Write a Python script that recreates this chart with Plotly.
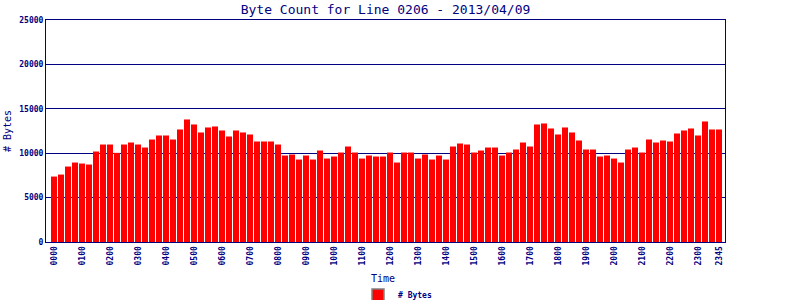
import plotly.graph_objects as go

bytes_counts = [
    7370, 7595, 8498, 8949, 8836, 8723, 10190, 10979, 10979, 10039, 10979, 11205,
    10979, 10640, 11543, 11994, 11994, 11543, 12671, 13800, 13235, 12333, 12897, 13010,
    12558, 11882, 12558, 12333, 12107, 11318, 11318, 11318, 10979, 9738, 9851, 9287,
    9738, 9287, 10302, 9400, 9626, 10077, 10754, 10077, 9400, 9738, 9626, 9626,
    10077, 8949, 10077, 10077, 9400, 9851, 9287, 9738, 9287, 10754, 11092, 10979,
    10077, 10302, 10640, 10640, 9738, 10077, 10415, 11205, 10754, 13235, 13348, 12784,
    12107, 12897, 12333, 11430, 10415, 10415, 9626, 9738, 9400, 8949, 10415, 10640,
    10077, 11543, 11205, 11430, 11318, 12220, 12558, 12784, 11994, 13574, 12671, 12671,
]
times = ["%02d%02d" % (i // 4, (i % 4) * 15) for i in range(96)]
tick_labels = ["%02d00" % h for h in range(24)] + ["2345"]
tick_positions = [times.index(t) for t in tick_labels]
y_ticks = [0, 5000, 10000, 15000, 20000, 25000]

NAVY = "#000080"
MONO = "DejaVu Sans Mono"

x_idx = list(range(len(bytes_counts)))

fig = go.Figure()
fig.add_trace(go.Bar(
    x=x_idx, y=bytes_counts, marker=dict(color="#ff0000", line=dict(width=0)),
    showlegend=False, hovertext=times,
))
fig.add_trace(go.Bar(
    x=[None], y=[None], name="# Bytes",
    marker=dict(color="#ff0000", line=dict(color="#808080", width=1.5)),
    showlegend=True,
))

fig.update_layout(
    width=800, height=300,
    margin=dict(l=46, r=75, t=20, b=58, autoexpand=False),
    paper_bgcolor="white", plot_bgcolor="white",
    bargap=0.14,
    title=dict(text="Byte Count for Line 0206 - 2013/04/09",
               font=dict(family=MONO, size=13, color=NAVY),
               x=385.5 / 800, xanchor="center", y=1 - 9 / 300, yanchor="middle"),
    font=dict(family=MONO, color=NAVY),
    legend=dict(orientation="h", x=(358 - 46) / 679, xanchor="left",
                y=(242 - 295) / 222, yanchor="middle",
                font=dict(family=MONO, size=8, color=NAVY, weight="bold"),
                bgcolor="rgba(0,0,0,0)", itemwidth=30),
    xaxis=dict(range=[-1.14, 95.86], tickmode="array",
               tickvals=tick_positions, ticktext=tick_labels,
               tickangle=-90, tickfont=dict(family=MONO, size=8, color=NAVY, weight="bold"),
               showline=True, linecolor=NAVY, linewidth=1, mirror=True,
               showgrid=False, zeroline=False, ticks="", ticklen=0, automargin=False),
    yaxis=dict(range=[0, 25000], tickmode="array", tickvals=y_ticks,
               ticktext=[str(v) for v in y_ticks],
               tickfont=dict(family=MONO, size=8, color=NAVY, weight="bold"),
               showline=True, linecolor=NAVY, linewidth=1, mirror=True,
               showgrid=True, gridcolor=NAVY, gridwidth=1, zeroline=False,
               ticks="", ticklen=0, automargin=False),
    annotations=[
        dict(text="# Bytes", x=(7 - 46) / 679, y=(242 - 131) / 222,
             xref="paper", yref="paper", xanchor="center", yanchor="middle",
             showarrow=False, textangle=-90,
             font=dict(family=MONO, size=10, color=NAVY)),
        dict(text="Time", x=(383 - 46) / 679, y=(242 - 278) / 222,
             xref="paper", yref="paper", xanchor="center", yanchor="middle",
             showarrow=False,
             font=dict(family=MONO, size=10, color=NAVY)),
    ],
)

fig.write_html("out.html")
